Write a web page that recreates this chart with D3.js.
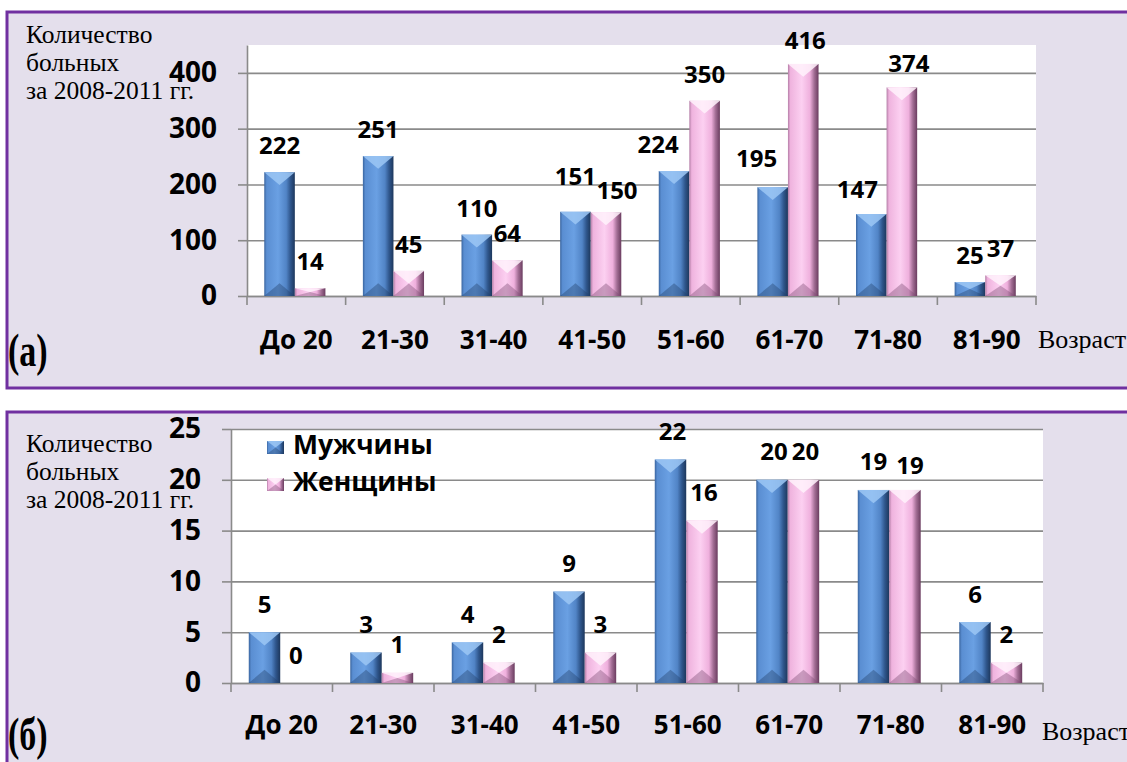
<!DOCTYPE html>
<html>
<head>
<meta charset="utf-8">
<script src="https://cdn.jsdelivr.net/npm/d3@7"></script>
<style>
  body { margin: 0; background: #fff; }
  svg text { font-family: "Open Sans", "Noto Sans", sans-serif; }
</style>
</head>
<body>
<script>
// ---- data ----
var categories = ["До 20", "21-30", "31-40", "41-50", "51-60", "61-70", "71-80", "81-90"];
var seriesNames = ["Мужчины", "Женщины"];
var menA = [222, 251, 110, 151, 224, 195, 147, 25];
var womenA = [14, 45, 64, 150, 350, 416, 374, 37];
var menB = [5, 3, 4, 9, 22, 20, 19, 6];
var womenB = [0, 1, 2, 3, 16, 20, 19, 2];
var ticksA = [0, 100, 200, 300, 400];
var ticksB = [0, 5, 10, 15, 20, 25];
var yTitle = ["Количество", "больных", "за 2008-2011 гг."];
var xTitle = "Возраст";

var width = 1127, height = 762;

var svg = d3.select("body").append("svg")
    .attr("width", width)
    .attr("height", height);

var defs = svg.append("defs");

function hGrad(id, stops) {
  var gr = defs.append("linearGradient")
      .attr("id", id)
      .attr("x1", 0).attr("x2", 1).attr("y1", 0).attr("y2", 0);
  stops.forEach(function(s) {
    gr.append("stop").attr("offset", s[0]).attr("stop-color", s[1]);
  });
}
hGrad("menBody", [[0, "#3a659f"], [0.08, "#5a8ed2"], [0.45, "#6aa0e3"], [0.72, "#5184c6"], [0.86, "#2f568c"], [1, "#1d375c"]]);
hGrad("womenBody", [[0, "#b47ea7"], [0.08, "#efb3de"], [0.45, "#fcd0f1"], [0.72, "#efb0dd"], [0.86, "#a26d94"], [1, "#6a3c5f"]]);

var palettes = [
  {body: "url(#menBody)", top: "#9cc7f5", bottom: "#23416b"},
  {body: "url(#womenBody)", top: "#fff2fc", bottom: "#7d4c72"}
];

// bevelled column, Excel style
function bevelBar(g, x0, y0, w, h, pal) {
  if (h <= 0) return;
  var d = Math.min(w * 0.42, h / 2);
  g.append("rect")
      .attr("x", x0).attr("y", y0)
      .attr("width", w).attr("height", h)
      .attr("fill", pal.body);
  g.append("path")
      .attr("d", "M" + x0 + "," + y0 + "L" + (x0 + w) + "," + y0 + "L" + (x0 + w / 2) + "," + (y0 + d) + "Z")
      .attr("fill", pal.top).attr("opacity", 0.85);
  g.append("path")
      .attr("d", "M" + x0 + "," + (y0 + h) + "L" + (x0 + w) + "," + (y0 + h) + "L" + (x0 + w / 2) + "," + (y0 + h - d) + "Z")
      .attr("fill", pal.bottom).attr("opacity", 0.4);
}

var serif = "'Liberation Serif', 'Times New Roman', serif";

var panels = [
  {top: 12, h: 376, plot: {l: 247, r: 1036, t: 45, b: 296}, max: 450, ticks: ticksA,
   series: [menA, womenA], titleY: 43, tag: "(а)", tagY: 366, xPad: 35, ageX: 1038, ageY: 348,
   gap: 18, legend: false,
   nudge: {"0-3": [0, -9], "1-3": [11, 5], "0-4": [-16, 0], "0-5": [-16, -2], "1-5": [2, 3],
           "0-6": [-14, 2], "1-6": [7, 3]}},
  {top: 412, h: 400, plot: {l: 231, r: 1043, t: 429, b: 683}, max: 25, ticks: ticksB,
   series: [menB, womenB], titleY: 452, tag: "(б)", tagY: 750, xPad: 33, ageX: 1042, ageY: 740,
   gap: 19.5, legend: true,
   nudge: {"1-6": [5, 4], "0-4": [2, 0], "1-4": [2, 0], "0-5": [2, 0], "1-5": [2, 0]}}
];

panels.forEach(function(cfg) {
  var p = cfg.plot;
  var g = svg.append("g");

  g.append("rect")
      .attr("x", 7).attr("y", cfg.top)
      .attr("width", 1200).attr("height", cfg.h)
      .attr("fill", "#e4dfec")
      .attr("stroke", "#7030a0")
      .attr("stroke-width", 3);

  g.append("rect")
      .attr("x", p.l).attr("y", p.t)
      .attr("width", p.r - p.l).attr("height", p.b - p.t)
      .attr("fill", "#fff");

  var x = d3.scaleBand().domain(categories).range([p.l, p.r]);
  var xs = d3.scaleBand().domain([0, 1])
      .range([x.bandwidth() * 0.175, x.bandwidth() * 0.795]);
  var y = d3.scaleLinear().domain([0, cfg.max]).range([p.b, p.t]);

  // gridlines
  g.append("g")
      .attr("transform", "translate(" + p.l + ",0)")
      .call(d3.axisLeft(y).tickValues(cfg.ticks).tickSize(-(p.r - p.l)).tickFormat(""))
      .call(function(s) {
        s.select(".domain").remove();
        s.selectAll("line").attr("stroke", "#8a8a8a").attr("stroke-width", 1.6);
      });

  // y axis with labels
  g.append("g")
      .attr("transform", "translate(" + p.l + ",0)")
      .call(d3.axisLeft(y).tickValues(cfg.ticks).tickSize(9).tickSizeOuter(0).tickPadding(21))
      .call(function(s) {
        s.select(".domain").attr("stroke", "#8a8a8a").attr("stroke-width", 1.6);
        s.selectAll("line").attr("stroke", "#8a8a8a").attr("stroke-width", 1.6);
        s.selectAll("text")
            .attr("font-size", 28).attr("font-weight", 700).attr("fill", "#000")
            .style("font-family", "'Open Sans', sans-serif");
      });

  // x axis
  g.append("g")
      .attr("transform", "translate(0," + p.b + ")")
      .call(d3.axisBottom(x).tickSize(0).tickPadding(cfg.xPad))
      .call(function(s) {
        s.select(".domain").attr("stroke", "#8a8a8a").attr("stroke-width", 1.6);
        s.selectAll("text")
            .attr("font-size", 26).attr("font-weight", 700).attr("fill", "#000")
            .style("font-family", "'Open Sans', sans-serif");
      });

  var bounds = categories.map(function(c) { return x(c); }).concat([p.r]);
  g.selectAll(".cat-tick").data(bounds).enter().append("line")
      .attr("x1", function(d) { return d; }).attr("x2", function(d) { return d; })
      .attr("y1", p.b).attr("y2", p.b + 9)
      .attr("stroke", "#8a8a8a").attr("stroke-width", 1.6);

  // bars
  var bars = g.append("g");
  cfg.series.forEach(function(vals, si) {
    vals.forEach(function(v, i) {
      var x0 = x(categories[i]) + xs(si);
      bevelBar(bars, x0, y(v), xs.bandwidth(), y(0) - y(v), palettes[si]);
    });
  });

  // value labels
  cfg.series.forEach(function(vals, si) {
    vals.forEach(function(v, i) {
      var n = cfg.nudge[si + "-" + i] || [0, 0];
      g.append("text")
          .attr("x", x(categories[i]) + xs(si) + xs.bandwidth() / 2 + n[0])
          .attr("y", y(v) - cfg.gap + n[1])
          .attr("text-anchor", "middle")
          .attr("font-size", 24).attr("font-weight", 700)
          .text(v);
    });
  });

  // axis titles
  var t = g.append("text")
      .style("font-family", serif)
      .attr("font-size", 25.5);
  yTitle.forEach(function(line, k) {
    t.append("tspan").attr("x", 26).attr("y", cfg.titleY + k * 28).text(line);
  });

  g.append("text")
      .attr("x", cfg.ageX).attr("y", cfg.ageY)
      .style("font-family", serif)
      .attr("font-size", 26)
      .text(xTitle);

  g.append("text")
      .attr("transform", "translate(8," + cfg.tagY + ") scale(0.74,1)")
      .style("font-family", serif)
      .attr("font-size", 46).attr("font-weight", 700)
      .text(cfg.tag);

  if (cfg.legend) {
    seriesNames.forEach(function(name, si) {
      var by = 454 + si * 37;
      bevelBar(g, 267, by - 13, 17, 13, palettes[si]);
      g.append("text")
          .attr("x", 293).attr("y", by)
          .attr("font-size", 26.5).attr("font-weight", 700)
          .text(name);
    });
  }
});
</script>
</body>
</html>
